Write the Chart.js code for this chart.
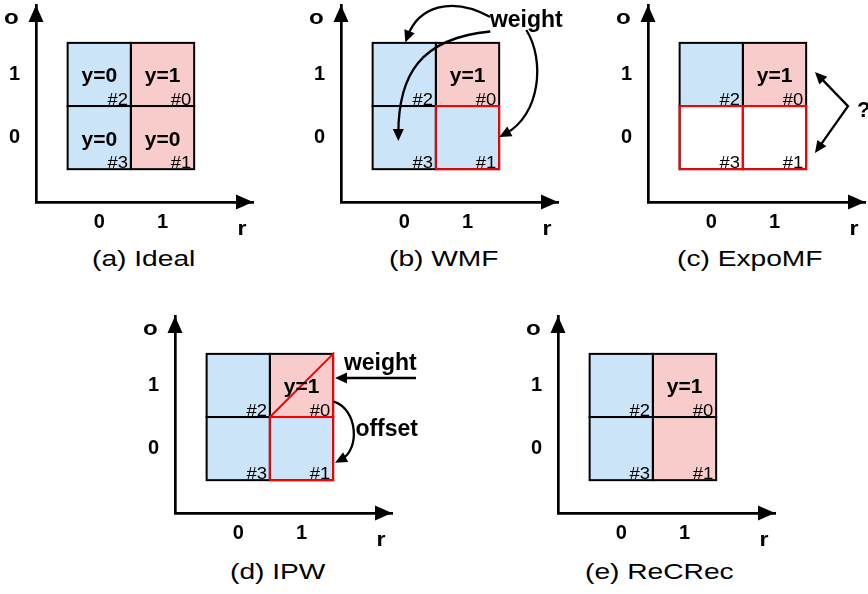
<!DOCTYPE html>
<html>
<head>
<meta charset="utf-8">
<script src="https://cdn.jsdelivr.net/npm/chart.js@4.4.1/dist/chart.umd.min.js"></script>
<style>
  html, body { margin: 0; padding: 0; background: #fff; width: 868px; height: 594px; overflow: hidden; position: relative; }
  canvas { position: absolute; }
  .cap { position: absolute; font: 22px "Liberation Sans", Arial, Helvetica, sans-serif; color: #000;
         line-height: 26px; white-space: nowrap; transform-origin: left center; transform: scaleX(1.28); }
</style>
</head>
<body>
<script>
// ---- grid categories and tick labels ----
const rValues = [0, 1];                 // recommended (r) axis categories
const oValues = [0, 1];                 // observed (o) axis categories
const rTickLabels = ['0', '1'];
const oTickLabels = ['0', '1'];

// ---- the four cells, indexed #0..#3 ----
const cellIds = ['#0', '#1', '#2', '#3'];
const cellR = [1, 1, 0, 0];
const cellO = [1, 0, 1, 0];

// ---- per-method cell state: 'pos' = positive, 'neg' = negative, 'none' = unlabeled ----
const idealFill  = ['pos', 'pos', 'neg', 'neg'];
const wmfFill    = ['pos', 'neg', 'neg', 'neg'];
const expoFill   = ['pos', 'none', 'neg', 'none'];
const ipwFill    = ['pos', 'neg', 'neg', 'neg'];
const recrecFill = ['pos', 'pos', 'neg', 'neg'];

const idealLabels    = ['y=1', 'y=0', 'y=0', 'y=0'];
const observedLabels = ['y=1', '', '', ''];

// cells whose outline is highlighted
const noRed   = [0, 0, 0, 0];
const wmfRed  = [0, 1, 0, 0];
const expoRed = [0, 1, 0, 1];
const ipwRed  = [0, 1, 0, 0];

const panelTitles = ['(a) Ideal', '(b) WMF', '(c) ExpoMF', '(d) IPW', '(e) ReCRec'];

// ---- styling ----
const FONT = '"Liberation Sans", Arial, Helvetica, sans-serif';
const FILL = { pos: '#f9cccc', neg: '#cce4f8', none: '#ffffff' };
const RED = '#ff0000';

// ---- panel layout and annotations (annotation points are in r/o axis units) ----
const panels = [
  { ox: 36, oy: 202, capX: 92, capY: 246, title: panelTitles[0],
    fill: idealFill, labels: idealLabels, red: noRed, split: -1, notes: [] },
  { ox: 341, oy: 202, capX: 389, capY: 246, title: panelTitles[1],
    fill: wmfFill, labels: observedLabels, red: wmfRed, split: -1,
    notes: [
      { kind: 'text', text: 'weight', at: [1.929, 1.752], font: 'bold 23px', align: 'center' },
      { kind: 'curve', pts: [[1.360, 1.910], [0.728, 2.258], [0.222, 2.053], [0.016, 1.506]] },
      { kind: 'curve', pts: [[1.360, 1.680], [0.253, 1.577], [-0.094, 0.991], [-0.094, -0.054]] },
      { kind: 'curve', pts: [[1.929, 1.704], [2.229, 1.229], [2.150, 0.358], [1.502, 0.010]] }
    ] },
  { ox: 648, oy: 202, capX: 677, capY: 246, title: panelTitles[2],
    fill: expoFill, labels: observedLabels, red: expoRed, split: -1,
    notes: [
      { kind: 'poly', pts: [[1.639, 1.039], [2.161, 0.498], [1.639, -0.244]] },
      { kind: 'text', text: '?', at: [2.303, 0.326], font: 'bold 22px', align: 'left' }
    ] },
  { ox: 175, oy: 513, capX: 230, capY: 559, title: panelTitles[3],
    fill: ipwFill, labels: observedLabels, red: ipwRed, split: 0,
    notes: [
      { kind: 'text', text: 'weight', at: [2.245, 1.238], font: 'bold 23px', align: 'center' },
      { kind: 'line', pts: [[2.809, 1.118], [1.529, 1.118]] },
      { kind: 'text', text: 'offset', at: [2.346, 0.193], font: 'bold 23px', align: 'center' },
      { kind: 'curve', pts: [[1.513, 0.743], [1.892, 0.616], [1.924, -0.018], [1.529, -0.223]] }
    ] },
  { ox: 558, oy: 513, capX: 585, capY: 559, title: panelTitles[4],
    fill: recrecFill, labels: observedLabels, red: noRed, split: -1, notes: [] }
];

function drawText(ctx, s, x, y, font, align, sx) {
  ctx.save();
  ctx.font = font + ' ' + FONT;
  ctx.textAlign = align;
  ctx.textBaseline = 'alphabetic';
  ctx.fillStyle = '#000';
  ctx.translate(x, y);
  ctx.scale(sx || 1, 1);
  ctx.fillText(s, 0, 0);
  ctx.restore();
}

function arrowHead(ctx, tx, ty, fx, fy, len, half) {
  const dx = tx - fx, dy = ty - fy, d = Math.hypot(dx, dy) || 1;
  const ux = dx / d, uy = dy / d;
  const bx = tx - ux * len, by = ty - uy * len;
  ctx.beginPath();
  ctx.moveTo(tx, ty);
  ctx.lineTo(bx - uy * half, by + ux * half);
  ctx.lineTo(bx + uy * half, by - ux * half);
  ctx.closePath();
  ctx.fill();
  return [tx - ux * len * 0.6, ty - uy * len * 0.6];
}

function diagramPlugin(p) {
  return {
    id: 'diagram',
    afterDatasetsDraw(chart) {
      const ctx = chart.ctx, xs = chart.scales.x, ys = chart.scales.y;
      const X = v => xs.getPixelForValue(v), Y = v => ys.getPixelForValue(v);
      ctx.save();

      // half-labelled cell: upper-left triangle keeps the positive colour
      if (p.split >= 0) {
        const r = cellR[p.split], o = cellO[p.split];
        ctx.fillStyle = FILL.pos;
        ctx.beginPath();
        ctx.moveTo(X(r - 0.5), Y(o - 0.5));
        ctx.lineTo(X(r - 0.5), Y(o + 0.5));
        ctx.lineTo(X(r + 0.5), Y(o + 0.5));
        ctx.closePath();
        ctx.fill();
      }

      // cell outlines
      ctx.lineWidth = 2;
      ctx.strokeStyle = '#000';
      cellR.forEach((r, i) => {
        const o = cellO[i];
        ctx.strokeRect(X(r - 0.5), Y(o + 0.5), X(r + 0.5) - X(r - 0.5), Y(o - 0.5) - Y(o + 0.5));
      });
      ctx.strokeStyle = RED;
      cellR.forEach((r, i) => {
        if (!p.red[i]) return;
        const o = cellO[i];
        ctx.strokeRect(X(r - 0.5), Y(o + 0.5), X(r + 0.5) - X(r - 0.5), Y(o - 0.5) - Y(o + 0.5));
      });
      if (p.split >= 0) {
        const r = cellR[p.split], o = cellO[p.split];
        ctx.beginPath();
        ctx.moveTo(X(r - 0.5), Y(o - 0.5));
        ctx.lineTo(X(r + 0.5), Y(o + 0.5));
        ctx.lineTo(X(r + 0.5), Y(o - 0.5));
        ctx.stroke();
      }

      // cell texts
      cellR.forEach((r, i) => {
        const o = cellO[i];
        if (p.labels[i]) drawText(ctx, p.labels[i], X(r), Y(o) + 8, 'bold 21px', 'center', 1);
        drawText(ctx, cellIds[i], X(r + 0.5) - 3, Y(o - 0.5) - 1, '16px', 'right', 1.15);
      });

      // annotations
      ctx.fillStyle = '#000';
      ctx.strokeStyle = '#000';
      ctx.lineWidth = 2.3;
      ctx.lineJoin = 'miter';
      p.notes.forEach(n => {
        if (n.kind === 'text') {
          drawText(ctx, n.text, X(n.at[0]), Y(n.at[1]), n.font, n.align, 1);
          return;
        }
        const pts = n.pts.map(q => [X(q[0]), Y(q[1])]);
        const last = pts.length - 1;
        const end = arrowHead(ctx, pts[last][0], pts[last][1], pts[last - 1][0], pts[last - 1][1], 12, 5.5);
        let start = pts[0];
        if (n.kind === 'poly') start = arrowHead(ctx, pts[0][0], pts[0][1], pts[1][0], pts[1][1], 12, 5.5);
        ctx.beginPath();
        ctx.moveTo(start[0], start[1]);
        if (n.kind === 'curve') {
          ctx.bezierCurveTo(pts[1][0], pts[1][1], pts[2][0], pts[2][1], end[0], end[1]);
        } else {
          for (let k = 1; k < last; k++) ctx.lineTo(pts[k][0], pts[k][1]);
          ctx.lineTo(end[0], end[1]);
        }
        ctx.stroke();
      });
      ctx.restore();
    },
    afterDraw(chart) {
      const ctx = chart.ctx, a = chart.chartArea;
      ctx.save();
      ctx.fillStyle = '#000';
      // axis arrowheads
      ctx.beginPath();
      ctx.moveTo(a.left, a.top);
      ctx.lineTo(a.left - 7.5, a.top + 17);
      ctx.lineTo(a.left + 7.5, a.top + 17);
      ctx.closePath();
      ctx.fill();
      ctx.beginPath();
      ctx.moveTo(a.right, a.bottom);
      ctx.lineTo(a.right - 17, a.bottom - 7.5);
      ctx.lineTo(a.right - 17, a.bottom + 7.5);
      ctx.closePath();
      ctx.fill();
      // axis names
      drawText(ctx, 'o', a.left - 24.5, a.top + 19, 'bold 21px', 'center', 1.15);
      drawText(ctx, 'r', a.right - 11, a.bottom + 33, 'bold 21px', 'center', 1.1);
      ctx.restore();
    }
  };
}

function axis(values, labels, min, max, size, padding) {
  return {
    type: 'linear', min: min, max: max, offset: false,
    afterBuildTicks: s => { s.ticks = values.map(v => ({ value: v })); },
    afterFit: s => {
      if (s.isHorizontal()) s.height = size; else s.width = size;
      // the arrowed axes are placed by the layout padding alone
      s.paddingTop = s.paddingBottom = s.paddingLeft = s.paddingRight = 0;
    },
    grid: { display: false, drawTicks: false, offset: false },
    border: { display: true, color: '#000', width: 2.7 },
    ticks: {
      autoSkip: false, maxRotation: 0, padding: padding, color: '#000',
      font: { family: FONT, size: 20, weight: 'bold' },
      callback: (v, i) => labels[i]
    }
  };
}

panels.forEach(p => {
  const cv = document.createElement('canvas');
  cv.width = 290;
  cv.height = 245;
  cv.style.left = (p.ox - 36) + 'px';
  cv.style.top = (p.oy - 202) + 'px';
  document.body.appendChild(cv);

  new Chart(cv, {
    type: 'bar',
    data: {
      datasets: [{
        data: cellR.map((r, i) => ({ x: r, y: [cellO[i] - 0.5, cellO[i] + 0.5] })),
        backgroundColor: p.fill.map(k => FILL[k]),
        borderWidth: 0,
        inflateAmount: 0,
        barPercentage: 1,
        categoryPercentage: 1,
        grouped: false
      }]
    },
    options: {
      responsive: false,
      animation: false,
      events: [],
      layout: { autoPadding: false, padding: { top: 5, right: 37, bottom: 0, left: 0 } },
      plugins: { legend: { display: false }, tooltip: { enabled: false } },
      scales: {
        x: axis(rValues, rTickLabels, -1, 2.43, 43, 8),
        y: axis(oValues, oTickLabels, -1.02, 2.1, 36, 16)
      }
    },
    plugins: [diagramPlugin(p)]
  });

  const cap = document.createElement('div');
  cap.className = 'cap';
  cap.textContent = p.title;
  cap.style.left = p.capX + 'px';
  cap.style.top = p.capY + 'px';
  document.body.appendChild(cap);
});
</script>
</body>
</html>
